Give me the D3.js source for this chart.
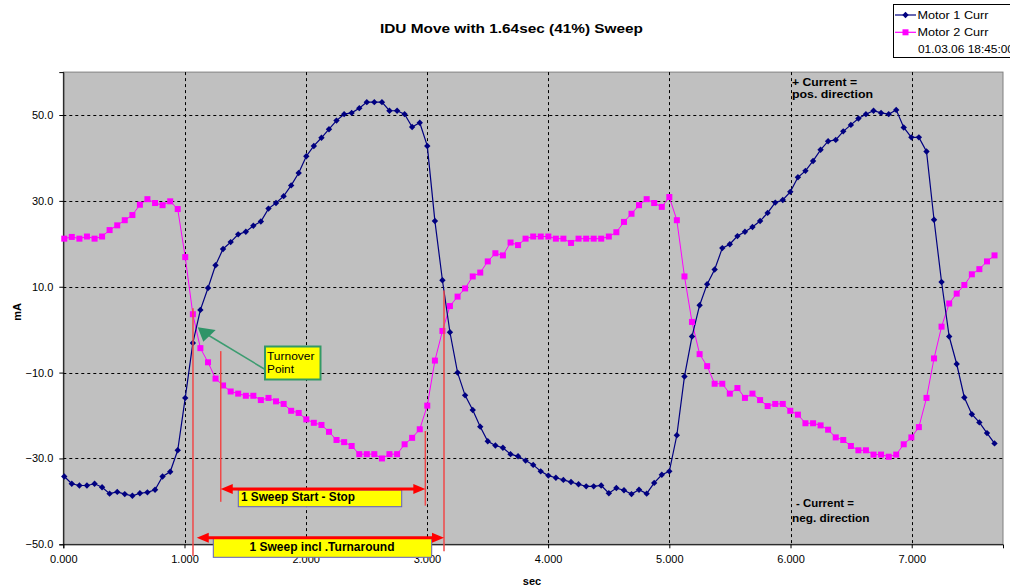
<!DOCTYPE html>
<html>
<head>
<meta charset="utf-8">
<script src="https://cdn.jsdelivr.net/npm/d3@7"></script>
<style>
body { margin: 0; background: #fff; }
svg { display: block; font-family: "Liberation Sans", Arial, sans-serif; }
</style>
</head>
<body>
<div id="chart"></div>
<script>
// sample times (sec)
const times = [0.008, 0.070, 0.133, 0.195, 0.258, 0.320, 0.382, 0.445, 0.507, 0.570,
  0.632, 0.694, 0.757, 0.819, 0.882, 0.944, 1.006, 1.069, 1.131, 1.194,
  1.256, 1.318, 1.381, 1.443, 1.506, 1.568, 1.630, 1.693, 1.755, 1.818,
  1.880, 1.942, 2.005, 2.067, 2.130, 2.192, 2.254, 2.317, 2.379, 2.442,
  2.504, 2.566, 2.629, 2.691, 2.754, 2.816, 2.878, 2.941, 3.003, 3.066,
  3.128, 3.190, 3.253, 3.315, 3.378, 3.440, 3.502, 3.565, 3.627, 3.690,
  3.752, 3.814, 3.877, 3.939, 4.002, 4.064, 4.126, 4.189, 4.251, 4.314,
  4.376, 4.438, 4.501, 4.563, 4.626, 4.688, 4.750, 4.813, 4.875, 4.938,
  5.000, 5.062, 5.125, 5.187, 5.250, 5.312, 5.374, 5.437, 5.499, 5.562,
  5.624, 5.686, 5.749, 5.811, 5.874, 5.936, 5.998, 6.061, 6.123, 6.186,
  6.248, 6.310, 6.373, 6.435, 6.498, 6.560, 6.622, 6.685, 6.747, 6.810,
  6.872, 6.934, 6.997, 7.059, 7.122, 7.184, 7.246, 7.309, 7.371, 7.434,
  7.496, 7.558, 7.621, 7.683];

// Motor 1 Curr (mA)
const motor1 = [-34.2, -35.9, -36.3, -36.3, -35.9, -36.7, -38.2, -37.8, -38.3, -38.7,
  -38.1, -37.9, -37.3, -34.2, -33.1, -28.1, -15.9, -3.1, 4.6, 9.7,
  15.0, 18.8, 20.4, 22.2, 22.8, 24.2, 25.2, 28.2, 29.5, 31.1,
  33.6, 36.5, 40.4, 42.8, 44.7, 46.7, 48.7, 50.2, 50.5, 51.6,
  53.0, 53.0, 53.0, 51.0, 51.0, 50.2, 47.2, 48.2, 42.8, 25.3,
  11.5, -0.6, -10.0, -15.3, -18.7, -22.6, -26.0, -27.0, -27.5, -29.0,
  -29.5, -30.5, -31.5, -33.0, -34.0, -34.5, -35.0, -35.5, -36.0, -36.5,
  -36.5, -36.3, -38.1, -36.9, -37.4, -38.3, -37.3, -38.2, -35.7, -33.8,
  -33.0, -24.6, -10.9, -1.6, 5.7, 10.6, 14.0, 19.0, 19.9, 21.8,
  22.8, 23.9, 25.3, 27.2, 29.6, 30.2, 32.1, 35.5, 37.0, 39.3,
  41.9, 43.9, 44.2, 46.2, 47.7, 49.2, 50.2, 51.0, 50.5, 50.2,
  51.2, 47.1, 44.8, 44.8, 41.5, 25.6, 11.1, -1.6, -8.0, -15.8,
  -19.7, -21.6, -24.1, -26.5];

// Motor 2 Curr (mA)
const motor2 = [21.2, 21.6, 21.2, 21.7, 21.2, 21.7, 23.2, 24.3, 25.5, 26.7,
  29.1, 30.4, 29.5, 29.0, 29.9, 28.1, 16.9, 3.6, -4.3, -7.6,
  -11.4, -13.0, -14.4, -14.9, -15.4, -15.4, -16.4, -15.9, -16.7, -17.3,
  -18.9, -19.4, -20.9, -21.7, -22.2, -23.8, -25.7, -26.2, -27.1, -29.0,
  -29.0, -29.0, -30.0, -29.0, -29.0, -26.7, -25.2, -23.2, -17.7, -7.2,
  -0.3, 5.5, 7.7, 9.6, 12.4, 13.3, 15.9, 17.8, 17.3, 20.3,
  19.7, 21.2, 21.7, 21.7, 21.7, 21.2, 21.2, 20.2, 21.2, 21.2,
  21.2, 21.2, 21.7, 22.7, 25.1, 27.0, 29.0, 30.4, 29.5, 28.6,
  30.9, 25.5, 12.4, 1.8, -5.7, -8.5, -12.6, -12.6, -14.9, -13.6,
  -15.9, -14.9, -16.4, -17.8, -17.3, -17.3, -18.9, -19.8, -21.8, -21.8,
  -22.3, -23.3, -25.1, -25.7, -27.1, -28.1, -28.1, -29.1, -29.1, -29.6,
  -29.1, -26.7, -25.1, -22.7, -15.9, -6.7, 0.7, 6.1, 8.4, 10.4,
  12.9, 14.1, 15.9, 17.3];

const xTicks = [0, 1, 2, 3, 4, 5, 6, 7];
const yTicks = [-50, -30, -10, 10, 30, 50];
const seriesNames = ["Motor 1 Curr", "Motor 2 Curr"];
const stampText = "01.03.06 18:45:00";
const titleText = "IDU Move with 1.64sec (41%) Sweep";

// red marker lines: time, from mA, to mA
const markTimes = [1.070, 1.299, 2.987, 3.141];
const markTop = [5.0, -5.0, -23.6, 9.1];
const markBottom = [-52.7, -40.1, -41.0, -51.6];

// sweep arrows: start, end (sec), level (mA)
const sweepLabels = ["1 Sweep Start - Stop", "1 Sweep incl .Turnaround"];
const sweepFrom = [1.299, 1.101];
const sweepTo = [2.987, 3.141];
const sweepLevel = [-37.1, -48.5];

const width = 1010, height = 587;
const svg = d3.select("#chart").append("svg")
    .attr("width", width)
    .attr("height", height);

var x = d3.scaleLinear().domain([0, 7.753]).range([63.3, 1003]);
var y = d3.scaleLinear().domain([-50, 60]).range([544.3, 72.1]);

/* plot area */
svg.append("rect")
    .attr("x", x(0)).attr("y", y(60))
    .attr("width", x(7.753) - x(0)).attr("height", y(-50) - y(60))
    .attr("fill", "#c0c0c0")
    .attr("stroke", "#808080");

/* grid */
svg.append("g").selectAll("line")
    .data(yTicks.filter(d => d > -50)).enter()
    .append("line")
    .attr("x1", x(0)).attr("x2", x(7.753))
    .attr("y1", d => Math.round(y(d)) + 0.5).attr("y2", d => Math.round(y(d)) + 0.5)
    .attr("stroke", "#000").attr("stroke-dasharray", "3,3");

svg.append("g").selectAll("line")
    .data(xTicks.filter(d => d > 0)).enter()
    .append("line")
    .attr("x1", d => Math.round(x(d)) + 0.5).attr("x2", d => Math.round(x(d)) + 0.5)
    .attr("y1", y(60)).attr("y2", y(-50))
    .attr("stroke", "#000").attr("stroke-dasharray", "3,3");

/* axes */
var xAxis = d3.axisBottom(x).tickValues(xTicks).tickFormat(d3.format(".3f")).tickSize(4);
var yAxis = d3.axisLeft(y).tickValues(yTicks).tickFormat(d3.format(".1f")).tickSize(4);

svg.append("g")
    .attr("transform", `translate(0, ${y(-50)})`)
    .call(xAxis)
    .call(g => g.selectAll("text").attr("font-size", "11px").attr("fill", "#000").attr("dy", "1.1em"))
    .call(g => g.select(".domain").attr("stroke", "#000"));

svg.append("g")
    .attr("transform", `translate(${x(0)}, 0)`)
    .call(yAxis)
    .call(g => g.selectAll("text").attr("font-size", "11px").attr("fill", "#000").attr("x", -10))
    .call(g => g.select(".domain").attr("stroke", "#000"));

svg.selectAll(".tick line").attr("stroke", "#000");

/* lines */
var pts1 = times.map((t, i) => ({t: t, v: motor1[i]}));
var pts2 = times.map((t, i) => ({t: t, v: motor2[i]}));
var line = d3.line().x(d => x(d.t)).y(d => y(d.v));

svg.append("path").datum(pts2)
    .attr("d", line).attr("fill", "none")
    .attr("stroke", "#ff00ff").attr("stroke-width", 1);
svg.append("path").datum(pts1)
    .attr("d", line).attr("fill", "none")
    .attr("stroke", "#000080").attr("stroke-width", 1.2);

svg.append("g").selectAll("rect")
    .data(pts2).enter()
    .append("rect")
    .attr("x", d => x(d.t) - 3).attr("y", d => y(d.v) - 3)
    .attr("width", 6).attr("height", 6)
    .attr("fill", "#ff00ff");

var diamond = d3.symbol().type(d3.symbolDiamond2).size(26);
svg.append("g").selectAll("path")
    .data(pts1).enter()
    .append("path")
    .attr("d", diamond)
    .attr("transform", d => `translate(${x(d.t)},${y(d.v)})`)
    .attr("fill", "#000080");

/* red marker lines */
svg.append("g").selectAll("line")
    .data(markTimes).enter()
    .append("line")
    .attr("x1", d => x(d)).attr("x2", d => x(d))
    .attr("y1", (d, i) => y(markTop[i])).attr("y2", (d, i) => y(markBottom[i]))
    .attr("stroke", "#f04848").attr("stroke-width", 1.5);

/* sweep boxes + arrows */
var boxes = [
    {x: 238.3, y: 490, w: 163.4, h: 16.7, tx: 241, ty: 501, anchor: "start", len: 114},
    {x: 213.3, y: 538, w: 218.4, h: 19.3, tx: 322, ty: 551, anchor: "middle", len: 145}
];
boxes.forEach((b, i) => {
    svg.append("rect")
        .attr("x", b.x).attr("y", b.y).attr("width", b.w).attr("height", b.h)
        .attr("fill", "#ffff00").attr("stroke", "#6060c0").attr("stroke-width", 1);
    svg.append("text")
        .attr("x", b.tx).attr("y", b.ty)
        .attr("text-anchor", b.anchor)
        .attr("font-size", "12px").attr("font-weight", "bold")
        .attr("textLength", b.len).attr("lengthAdjust", "spacingAndGlyphs")
        .text(sweepLabels[i]);

    var x0 = x(sweepFrom[i]), x1 = x(sweepTo[i]), yy = y(sweepLevel[i]);
    svg.append("line")
        .attr("x1", x0 + 10).attr("x2", x1 - 10)
        .attr("y1", yy).attr("y2", yy)
        .attr("stroke", "#ff0000").attr("stroke-width", 3);
    svg.append("path")
        .attr("d", `M${x0},${yy}L${x0 + 12},${yy - 5}L${x0 + 12},${yy + 5}Z`)
        .attr("fill", "#ff0000");
    svg.append("path")
        .attr("d", `M${x1},${yy}L${x1 - 12},${yy - 5}L${x1 - 12},${yy + 5}Z`)
        .attr("fill", "#ff0000");
});

/* turnover callout */
svg.append("line")
    .attr("x1", 264.3).attr("y1", 369)
    .attr("x2", 208).attr("y2", 335)
    .attr("stroke", "#3c9c70").attr("stroke-width", 1.5);
svg.append("path")
    .attr("d", "M197.7,327.3L203.3,341.7L215.7,330Z")
    .attr("fill", "#2e9468");
svg.append("rect")
    .attr("x", 265).attr("y", 346.5).attr("width", 55.5).attr("height", 33)
    .attr("fill", "#ffff00").attr("stroke", "#339966").attr("stroke-width", 2);
svg.append("text").attr("x", 267).attr("y", 359.5)
    .attr("font-size", "11px").attr("textLength", 47.5).attr("lengthAdjust", "spacingAndGlyphs")
    .text("Turnover");
svg.append("text").attr("x", 267).attr("y", 373)
    .attr("font-size", "11px").attr("textLength", 27).attr("lengthAdjust", "spacingAndGlyphs")
    .text("Point");

/* direction notes */
var notes = [
    {t: "+ Current =", x: 792, y: 86, len: 65},
    {t: "pos. direction", x: 792, y: 98, len: 81},
    {t: "- Current =", x: 796, y: 507, len: 58},
    {t: "neg. direction", x: 792, y: 522, len: 77.5}
];
svg.append("g").selectAll("text")
    .data(notes).enter()
    .append("text")
    .attr("x", d => d.x).attr("y", d => d.y)
    .attr("font-size", "11px").attr("font-weight", "bold")
    .attr("textLength", d => d.len).attr("lengthAdjust", "spacingAndGlyphs")
    .text(d => d.t);

/* titles */
svg.append("text")
    .attr("x", 380).attr("y", 33)
    .attr("font-size", "13px").attr("font-weight", "bold")
    .attr("textLength", 263).attr("lengthAdjust", "spacingAndGlyphs")
    .text(titleText);

svg.append("text")
    .attr("x", 532).attr("y", 585)
    .attr("text-anchor", "middle")
    .attr("font-size", "11px").attr("font-weight", "bold")
    .text("sec");

svg.append("text")
    .attr("transform", "translate(21, 312) rotate(-90)")
    .attr("text-anchor", "middle")
    .attr("font-size", "11px").attr("font-weight", "bold")
    .text("mA");

/* legend */
var legend = svg.append("g");
legend.append("rect")
    .attr("x", 893.5).attr("y", 4.5).attr("width", 130).attr("height", 53)
    .attr("fill", "#fff").attr("stroke", "#000");

var legColors = ["#000080", "#ff00ff"];
seriesNames.forEach((name, i) => {
    var ly = 15 + i * 17.3;
    legend.append("line")
        .attr("x1", 895).attr("x2", 916).attr("y1", ly).attr("y2", ly)
        .attr("stroke", legColors[i]).attr("stroke-width", 1.2);
    if (i === 0) {
        legend.append("path").attr("d", diamond)
            .attr("transform", `translate(905.5,${ly})`).attr("fill", legColors[i]);
    } else {
        legend.append("rect").attr("x", 902.5).attr("y", ly - 3)
            .attr("width", 6).attr("height", 6).attr("fill", legColors[i]);
    }
    legend.append("text")
        .attr("x", 917.5).attr("y", ly + 3.5)
        .attr("font-size", "11px")
        .attr("textLength", 71).attr("lengthAdjust", "spacingAndGlyphs")
        .text(name);
});
legend.append("text")
    .attr("x", 918).attr("y", 52.7)
    .attr("font-size", "11px")
    .attr("textLength", 96).attr("lengthAdjust", "spacingAndGlyphs")
    .text(stampText);
</script>
</body>
</html>
